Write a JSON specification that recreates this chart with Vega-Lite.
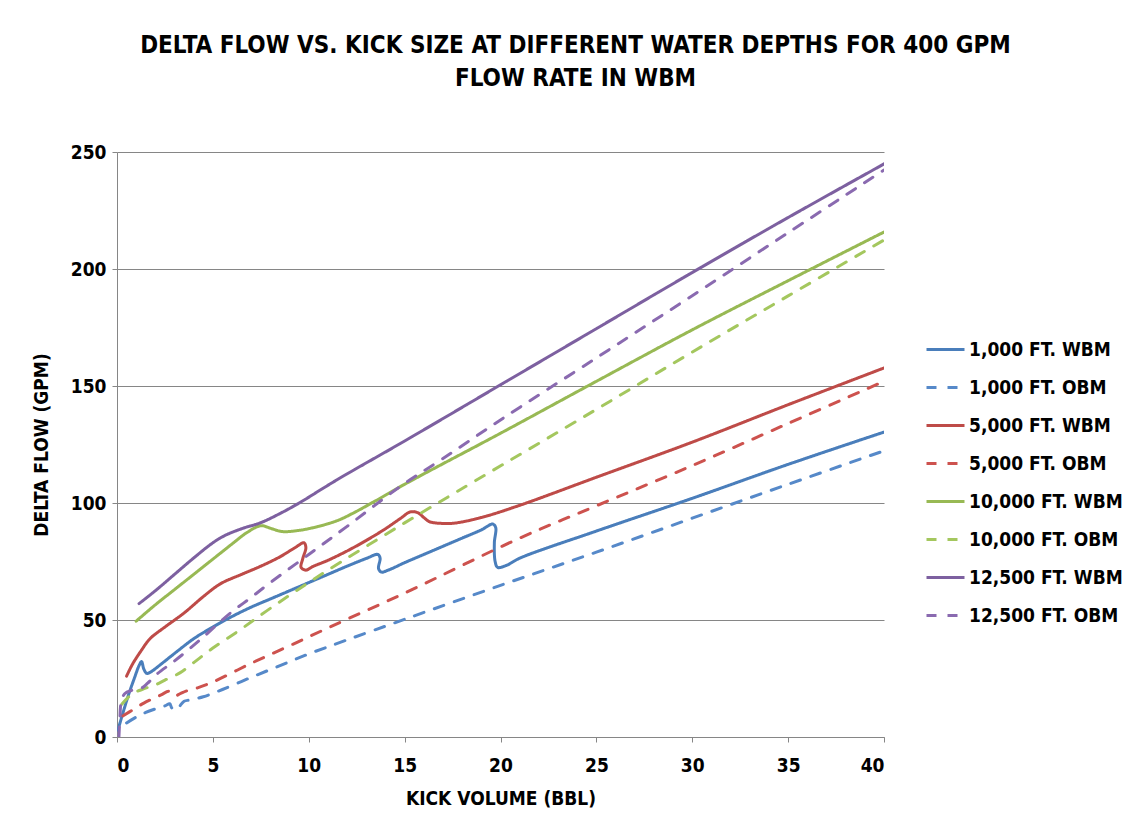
{
  "$schema": "https://vega.github.io/schema/vega-lite/v6.json",
  "autosize": "none",
  "width": 767,
  "height": 585,
  "padding": {"left": 117, "top": 152, "right": 255, "bottom": 93},
  "background": "white",
  "title": {
    "text": ["DELTA FLOW VS. KICK SIZE AT DIFFERENT WATER DEPTHS FOR 400 GPM", "FLOW RATE IN WBM"],
    "anchor": "middle",
    "dx": 75,
    "offset": 52,
    "font": "DejaVu Sans Condensed, sans-serif",
    "fontSize": 24,
    "fontWeight": "bold",
    "lineHeight": 33,
    "color": "black"
  },
  "config": {
    "view": {"stroke": null},
    "font": "DejaVu Sans Condensed, sans-serif",
    "axis": {
      "labelFont": "DejaVu Sans Condensed, sans-serif",
      "labelFontSize": 19,
      "labelFontWeight": "bold",
      "labelColor": "black",
      "titleFont": "DejaVu Sans Condensed, sans-serif",
      "titleFontSize": 19,
      "titleFontWeight": "bold",
      "titleColor": "black",
      "domainColor": "#868686",
      "tickColor": "#868686",
      "gridColor": "#868686",
      "gridWidth": 1,
      "domainWidth": 1,
      "tickSize": 5
    },
    "legend": {
      "labelFont": "DejaVu Sans Condensed, sans-serif",
      "labelFontSize": 19,
      "labelFontWeight": "bold",
      "labelColor": "black"
    }
  },
  "data": {"values": [
    {"s": "1,000 FT. WBM", "i": 0, "x": 0.05, "y": 3},
    {"s": "1,000 FT. WBM", "i": 1, "x": 0.3, "y": 10},
    {"s": "1,000 FT. WBM", "i": 2, "x": 0.6, "y": 18},
    {"s": "1,000 FT. WBM", "i": 3, "x": 0.9, "y": 25},
    {"s": "1,000 FT. WBM", "i": 4, "x": 1.15, "y": 30.5},
    {"s": "1,000 FT. WBM", "i": 5, "x": 1.28, "y": 32.2},
    {"s": "1,000 FT. WBM", "i": 6, "x": 1.4, "y": 29},
    {"s": "1,000 FT. WBM", "i": 7, "x": 1.55, "y": 27.2},
    {"s": "1,000 FT. WBM", "i": 8, "x": 1.8, "y": 28},
    {"s": "1,000 FT. WBM", "i": 9, "x": 2.2, "y": 30.5},
    {"s": "1,000 FT. WBM", "i": 10, "x": 3.2, "y": 37},
    {"s": "1,000 FT. WBM", "i": 11, "x": 4, "y": 42},
    {"s": "1,000 FT. WBM", "i": 12, "x": 5, "y": 47},
    {"s": "1,000 FT. WBM", "i": 13, "x": 6, "y": 51.5},
    {"s": "1,000 FT. WBM", "i": 14, "x": 7, "y": 55.5},
    {"s": "1,000 FT. WBM", "i": 15, "x": 8, "y": 59},
    {"s": "1,000 FT. WBM", "i": 16, "x": 9, "y": 62.5},
    {"s": "1,000 FT. WBM", "i": 17, "x": 10, "y": 66},
    {"s": "1,000 FT. WBM", "i": 18, "x": 11, "y": 69.5},
    {"s": "1,000 FT. WBM", "i": 19, "x": 12, "y": 73},
    {"s": "1,000 FT. WBM", "i": 20, "x": 13, "y": 76.3},
    {"s": "1,000 FT. WBM", "i": 21, "x": 13.6, "y": 78},
    {"s": "1,000 FT. WBM", "i": 22, "x": 13.72, "y": 76.5},
    {"s": "1,000 FT. WBM", "i": 23, "x": 13.64, "y": 72},
    {"s": "1,000 FT. WBM", "i": 24, "x": 13.78, "y": 70.5},
    {"s": "1,000 FT. WBM", "i": 25, "x": 14.2, "y": 71.5},
    {"s": "1,000 FT. WBM", "i": 26, "x": 15, "y": 74.5},
    {"s": "1,000 FT. WBM", "i": 27, "x": 16, "y": 78},
    {"s": "1,000 FT. WBM", "i": 28, "x": 17, "y": 81.5},
    {"s": "1,000 FT. WBM", "i": 29, "x": 18, "y": 85},
    {"s": "1,000 FT. WBM", "i": 30, "x": 19, "y": 88.5},
    {"s": "1,000 FT. WBM", "i": 31, "x": 19.6, "y": 91},
    {"s": "1,000 FT. WBM", "i": 32, "x": 19.75, "y": 89.5},
    {"s": "1,000 FT. WBM", "i": 33, "x": 19.68, "y": 83},
    {"s": "1,000 FT. WBM", "i": 34, "x": 19.72, "y": 75},
    {"s": "1,000 FT. WBM", "i": 35, "x": 19.85, "y": 72.5},
    {"s": "1,000 FT. WBM", "i": 36, "x": 20.3, "y": 73.3},
    {"s": "1,000 FT. WBM", "i": 37, "x": 21, "y": 76.4},
    {"s": "1,000 FT. WBM", "i": 38, "x": 25, "y": 88},
    {"s": "1,000 FT. WBM", "i": 39, "x": 30, "y": 102},
    {"s": "1,000 FT. WBM", "i": 40, "x": 35, "y": 116.5},
    {"s": "1,000 FT. WBM", "i": 41, "x": 40, "y": 130.3},

    {"s": "1,000 FT. OBM", "i": 0, "x": 0.5, "y": 6},
    {"s": "1,000 FT. OBM", "i": 1, "x": 1, "y": 8.5},
    {"s": "1,000 FT. OBM", "i": 2, "x": 1.5, "y": 10.5},
    {"s": "1,000 FT. OBM", "i": 3, "x": 2, "y": 12},
    {"s": "1,000 FT. OBM", "i": 4, "x": 2.5, "y": 13.3},
    {"s": "1,000 FT. OBM", "i": 5, "x": 2.75, "y": 14.2},
    {"s": "1,000 FT. OBM", "i": 6, "x": 2.85, "y": 12.5},
    {"s": "1,000 FT. OBM", "i": 7, "x": 3.0, "y": 11.5},
    {"s": "1,000 FT. OBM", "i": 8, "x": 3.25, "y": 13},
    {"s": "1,000 FT. OBM", "i": 9, "x": 3.5, "y": 15.3},
    {"s": "1,000 FT. OBM", "i": 10, "x": 3.8, "y": 15.8},
    {"s": "1,000 FT. OBM", "i": 11, "x": 4.5, "y": 17.2},
    {"s": "1,000 FT. OBM", "i": 12, "x": 5.5, "y": 20.3},
    {"s": "1,000 FT. OBM", "i": 13, "x": 7, "y": 25.5},
    {"s": "1,000 FT. OBM", "i": 14, "x": 8.5, "y": 30.5},
    {"s": "1,000 FT. OBM", "i": 15, "x": 10, "y": 35.5},
    {"s": "1,000 FT. OBM", "i": 16, "x": 12, "y": 41.5},
    {"s": "1,000 FT. OBM", "i": 17, "x": 15, "y": 50.3},
    {"s": "1,000 FT. OBM", "i": 18, "x": 20, "y": 64.8},
    {"s": "1,000 FT. OBM", "i": 19, "x": 25, "y": 79},
    {"s": "1,000 FT. OBM", "i": 20, "x": 30, "y": 93.5},
    {"s": "1,000 FT. OBM", "i": 21, "x": 35, "y": 108},
    {"s": "1,000 FT. OBM", "i": 22, "x": 40, "y": 122.3},

    {"s": "5,000 FT. WBM", "i": 0, "x": 0.5, "y": 26},
    {"s": "5,000 FT. WBM", "i": 1, "x": 0.8, "y": 31},
    {"s": "5,000 FT. WBM", "i": 2, "x": 1.27, "y": 37},
    {"s": "5,000 FT. WBM", "i": 3, "x": 1.72, "y": 42},
    {"s": "5,000 FT. WBM", "i": 4, "x": 2.5, "y": 47},
    {"s": "5,000 FT. WBM", "i": 5, "x": 3.5, "y": 53},
    {"s": "5,000 FT. WBM", "i": 6, "x": 4.5, "y": 60},
    {"s": "5,000 FT. WBM", "i": 7, "x": 5.4, "y": 65.5},
    {"s": "5,000 FT. WBM", "i": 8, "x": 6.5, "y": 69.5},
    {"s": "5,000 FT. WBM", "i": 9, "x": 7.5, "y": 73},
    {"s": "5,000 FT. WBM", "i": 10, "x": 8.5, "y": 77},
    {"s": "5,000 FT. WBM", "i": 11, "x": 9.3, "y": 81},
    {"s": "5,000 FT. WBM", "i": 12, "x": 9.75, "y": 83},
    {"s": "5,000 FT. WBM", "i": 13, "x": 9.85, "y": 81},
    {"s": "5,000 FT. WBM", "i": 14, "x": 9.68, "y": 76},
    {"s": "5,000 FT. WBM", "i": 15, "x": 9.6, "y": 72.5},
    {"s": "5,000 FT. WBM", "i": 16, "x": 9.85, "y": 71.3},
    {"s": "5,000 FT. WBM", "i": 17, "x": 10.2, "y": 72.8},
    {"s": "5,000 FT. WBM", "i": 18, "x": 11, "y": 75.5},
    {"s": "5,000 FT. WBM", "i": 19, "x": 12, "y": 79.5},
    {"s": "5,000 FT. WBM", "i": 20, "x": 13, "y": 84},
    {"s": "5,000 FT. WBM", "i": 21, "x": 14, "y": 89},
    {"s": "5,000 FT. WBM", "i": 22, "x": 14.8, "y": 93.5},
    {"s": "5,000 FT. WBM", "i": 23, "x": 15.3, "y": 96.2},
    {"s": "5,000 FT. WBM", "i": 24, "x": 15.7, "y": 95.8},
    {"s": "5,000 FT. WBM", "i": 25, "x": 16, "y": 93.8},
    {"s": "5,000 FT. WBM", "i": 26, "x": 16.3, "y": 92},
    {"s": "5,000 FT. WBM", "i": 27, "x": 16.9, "y": 91.3},
    {"s": "5,000 FT. WBM", "i": 28, "x": 17.6, "y": 91.4},
    {"s": "5,000 FT. WBM", "i": 29, "x": 19, "y": 93.8},
    {"s": "5,000 FT. WBM", "i": 30, "x": 21, "y": 99},
    {"s": "5,000 FT. WBM", "i": 31, "x": 25, "y": 111},
    {"s": "5,000 FT. WBM", "i": 32, "x": 30, "y": 126},
    {"s": "5,000 FT. WBM", "i": 33, "x": 35, "y": 142},
    {"s": "5,000 FT. WBM", "i": 34, "x": 40, "y": 157.7},

    {"s": "5,000 FT. OBM", "i": 0, "x": 0.3, "y": 9},
    {"s": "5,000 FT. OBM", "i": 1, "x": 0.9, "y": 12},
    {"s": "5,000 FT. OBM", "i": 2, "x": 1.4, "y": 14.5},
    {"s": "5,000 FT. OBM", "i": 3, "x": 1.9, "y": 16.5},
    {"s": "5,000 FT. OBM", "i": 4, "x": 2.3, "y": 18},
    {"s": "5,000 FT. OBM", "i": 5, "x": 2.7, "y": 19.5},
    {"s": "5,000 FT. OBM", "i": 6, "x": 2.85, "y": 18.5},
    {"s": "5,000 FT. OBM", "i": 7, "x": 3.0, "y": 17.5},
    {"s": "5,000 FT. OBM", "i": 8, "x": 3.3, "y": 18.5},
    {"s": "5,000 FT. OBM", "i": 9, "x": 3.6, "y": 19.6},
    {"s": "5,000 FT. OBM", "i": 10, "x": 4.2, "y": 21},
    {"s": "5,000 FT. OBM", "i": 11, "x": 5, "y": 23.5},
    {"s": "5,000 FT. OBM", "i": 12, "x": 7, "y": 31.5},
    {"s": "5,000 FT. OBM", "i": 13, "x": 9, "y": 39},
    {"s": "5,000 FT. OBM", "i": 14, "x": 11.1, "y": 47},
    {"s": "5,000 FT. OBM", "i": 15, "x": 15, "y": 61.5},
    {"s": "5,000 FT. OBM", "i": 16, "x": 21, "y": 85},
    {"s": "5,000 FT. OBM", "i": 17, "x": 25, "y": 98.8},
    {"s": "5,000 FT. OBM", "i": 18, "x": 30, "y": 116},
    {"s": "5,000 FT. OBM", "i": 19, "x": 35, "y": 134},
    {"s": "5,000 FT. OBM", "i": 20, "x": 40, "y": 152},

    {"s": "10,000 FT. WBM", "i": 0, "x": 1, "y": 49.5},
    {"s": "10,000 FT. WBM", "i": 1, "x": 2, "y": 56.5},
    {"s": "10,000 FT. WBM", "i": 2, "x": 3, "y": 63},
    {"s": "10,000 FT. WBM", "i": 3, "x": 4, "y": 69.5},
    {"s": "10,000 FT. WBM", "i": 4, "x": 5, "y": 76},
    {"s": "10,000 FT. WBM", "i": 5, "x": 6, "y": 82.5},
    {"s": "10,000 FT. WBM", "i": 6, "x": 6.8, "y": 87.5},
    {"s": "10,000 FT. WBM", "i": 7, "x": 7.5, "y": 90.3},
    {"s": "10,000 FT. WBM", "i": 8, "x": 8, "y": 89.2},
    {"s": "10,000 FT. WBM", "i": 9, "x": 8.6, "y": 87.8},
    {"s": "10,000 FT. WBM", "i": 10, "x": 9.5, "y": 88.3},
    {"s": "10,000 FT. WBM", "i": 11, "x": 10.5, "y": 90},
    {"s": "10,000 FT. WBM", "i": 12, "x": 11.5, "y": 92.5},
    {"s": "10,000 FT. WBM", "i": 13, "x": 12.3, "y": 95.6},
    {"s": "10,000 FT. WBM", "i": 14, "x": 13.5, "y": 101},
    {"s": "10,000 FT. WBM", "i": 15, "x": 15, "y": 108},
    {"s": "10,000 FT. WBM", "i": 16, "x": 20, "y": 129.8},
    {"s": "10,000 FT. WBM", "i": 17, "x": 25, "y": 152},
    {"s": "10,000 FT. WBM", "i": 18, "x": 30, "y": 174},
    {"s": "10,000 FT. WBM", "i": 19, "x": 35, "y": 195},
    {"s": "10,000 FT. WBM", "i": 20, "x": 40, "y": 215.8},

    {"s": "10,000 FT. OBM", "i": 0, "x": 0.25, "y": 14},
    {"s": "10,000 FT. OBM", "i": 1, "x": 0.8, "y": 18.5},
    {"s": "10,000 FT. OBM", "i": 2, "x": 1.3, "y": 20.3},
    {"s": "10,000 FT. OBM", "i": 3, "x": 2, "y": 22.3},
    {"s": "10,000 FT. OBM", "i": 4, "x": 2.5, "y": 24.3},
    {"s": "10,000 FT. OBM", "i": 5, "x": 3.3, "y": 27.5},
    {"s": "10,000 FT. OBM", "i": 6, "x": 4, "y": 31.8},
    {"s": "10,000 FT. OBM", "i": 7, "x": 5, "y": 38},
    {"s": "10,000 FT. OBM", "i": 8, "x": 6.4, "y": 45.7},
    {"s": "10,000 FT. OBM", "i": 9, "x": 8, "y": 55},
    {"s": "10,000 FT. OBM", "i": 10, "x": 10.6, "y": 69.2},
    {"s": "10,000 FT. OBM", "i": 11, "x": 15, "y": 91.5},
    {"s": "10,000 FT. OBM", "i": 12, "x": 18.75, "y": 109.8},
    {"s": "10,000 FT. OBM", "i": 13, "x": 25, "y": 140},
    {"s": "10,000 FT. OBM", "i": 14, "x": 30, "y": 164.5},
    {"s": "10,000 FT. OBM", "i": 15, "x": 35, "y": 188.5},
    {"s": "10,000 FT. OBM", "i": 16, "x": 40, "y": 212.4},

    {"s": "12,500 FT. WBM", "i": 0, "x": 1.15, "y": 57},
    {"s": "12,500 FT. WBM", "i": 1, "x": 2, "y": 62.5},
    {"s": "12,500 FT. WBM", "i": 2, "x": 3, "y": 69.5},
    {"s": "12,500 FT. WBM", "i": 3, "x": 4, "y": 76.5},
    {"s": "12,500 FT. WBM", "i": 4, "x": 5, "y": 83},
    {"s": "12,500 FT. WBM", "i": 5, "x": 5.6, "y": 86},
    {"s": "12,500 FT. WBM", "i": 6, "x": 6.5, "y": 89},
    {"s": "12,500 FT. WBM", "i": 7, "x": 7.5, "y": 91.6},
    {"s": "12,500 FT. WBM", "i": 8, "x": 8.5, "y": 95.5},
    {"s": "12,500 FT. WBM", "i": 9, "x": 9.5, "y": 100},
    {"s": "12,500 FT. WBM", "i": 10, "x": 11.45, "y": 109.8},
    {"s": "12,500 FT. WBM", "i": 11, "x": 15, "y": 126.5},
    {"s": "12,500 FT. WBM", "i": 12, "x": 20, "y": 150.5},
    {"s": "12,500 FT. WBM", "i": 13, "x": 25, "y": 174.5},
    {"s": "12,500 FT. WBM", "i": 14, "x": 30, "y": 198.5},
    {"s": "12,500 FT. WBM", "i": 15, "x": 35, "y": 222},
    {"s": "12,500 FT. WBM", "i": 16, "x": 40, "y": 244.9},

    {"s": "12,500 FT. OBM", "i": 0, "x": 0.1, "y": 0},
    {"s": "12,500 FT. OBM", "i": 1, "x": 0.15, "y": 8},
    {"s": "12,500 FT. OBM", "i": 2, "x": 0.22, "y": 15},
    {"s": "12,500 FT. OBM", "i": 3, "x": 0.4, "y": 18.5},
    {"s": "12,500 FT. OBM", "i": 4, "x": 0.8, "y": 20},
    {"s": "12,500 FT. OBM", "i": 5, "x": 1.3, "y": 21},
    {"s": "12,500 FT. OBM", "i": 6, "x": 1.6, "y": 23},
    {"s": "12,500 FT. OBM", "i": 7, "x": 2.1, "y": 27},
    {"s": "12,500 FT. OBM", "i": 8, "x": 3, "y": 32.5},
    {"s": "12,500 FT. OBM", "i": 9, "x": 4.33, "y": 41.5},
    {"s": "12,500 FT. OBM", "i": 10, "x": 5.9, "y": 52.9},
    {"s": "12,500 FT. OBM", "i": 11, "x": 6.94, "y": 59.3},
    {"s": "12,500 FT. OBM", "i": 12, "x": 8, "y": 66},
    {"s": "12,500 FT. OBM", "i": 13, "x": 10, "y": 78},
    {"s": "12,500 FT. OBM", "i": 14, "x": 12, "y": 90},
    {"s": "12,500 FT. OBM", "i": 15, "x": 14.76, "y": 107},
    {"s": "12,500 FT. OBM", "i": 16, "x": 17, "y": 119},
    {"s": "12,500 FT. OBM", "i": 17, "x": 20, "y": 135.5},
    {"s": "12,500 FT. OBM", "i": 18, "x": 25, "y": 162},
    {"s": "12,500 FT. OBM", "i": 19, "x": 30, "y": 188.6},
    {"s": "12,500 FT. OBM", "i": 20, "x": 35, "y": 215.5},
    {"s": "12,500 FT. OBM", "i": 21, "x": 40, "y": 242.3}
  ]},
  "mark": {"type": "line", "interpolate": "catmull-rom", "strokeWidth": 3, "strokeCap": "round", "clip": true},
  "encoding": {
    "x": {
      "field": "x", "type": "quantitative",
      "scale": {"domain": [0, 40], "nice": false},
      "axis": {"title": "KICK VOLUME (BBL)", "values": [0, 5, 10, 15, 20, 25, 30, 35, 40], "grid": false, "labelPadding": 14, "titlePadding": 14}
    },
    "y": {
      "field": "y", "type": "quantitative",
      "scale": {"domain": [0, 250], "nice": false},
      "axis": {"title": "DELTA FLOW (GPM)", "values": [0, 50, 100, 150, 200, 250], "grid": true, "labelPadding": 6, "titlePadding": 19}
    },
    "color": {
      "field": "s", "type": "nominal",
      "scale": {
        "domain": ["1,000 FT. WBM", "1,000 FT. OBM", "5,000 FT. WBM", "5,000 FT. OBM", "10,000 FT. WBM", "10,000 FT. OBM", "12,500 FT. WBM", "12,500 FT. OBM"],
        "range": ["#4A7EBB", "#5689C9", "#BE4B48", "#CD524E", "#98B954", "#A4C75E", "#7D60A0", "#8A6AB0"]
      },
      "legend": {
        "title": null,
        "orient": "none",
        "legendX": 808,
        "legendY": 177,
        "symbolType": "stroke",
        "symbolSize": 1444,
        "symbolStrokeWidth": 3,
        "rowPadding": 7,
        "padding": 0,
        "labelOffset": 3
      }
    },
    "strokeDash": {
      "field": "s", "type": "nominal",
      "scale": {
        "domain": ["1,000 FT. WBM", "1,000 FT. OBM", "5,000 FT. WBM", "5,000 FT. OBM", "10,000 FT. WBM", "10,000 FT. OBM", "12,500 FT. WBM", "12,500 FT. OBM"],
        "range": [[1, 0], [10, 11], [1, 0], [10, 11], [1, 0], [10, 11], [1, 0], [10, 11]]
      },
      "legend": null
    },
    "order": {"field": "i", "type": "quantitative"}
  }
}
